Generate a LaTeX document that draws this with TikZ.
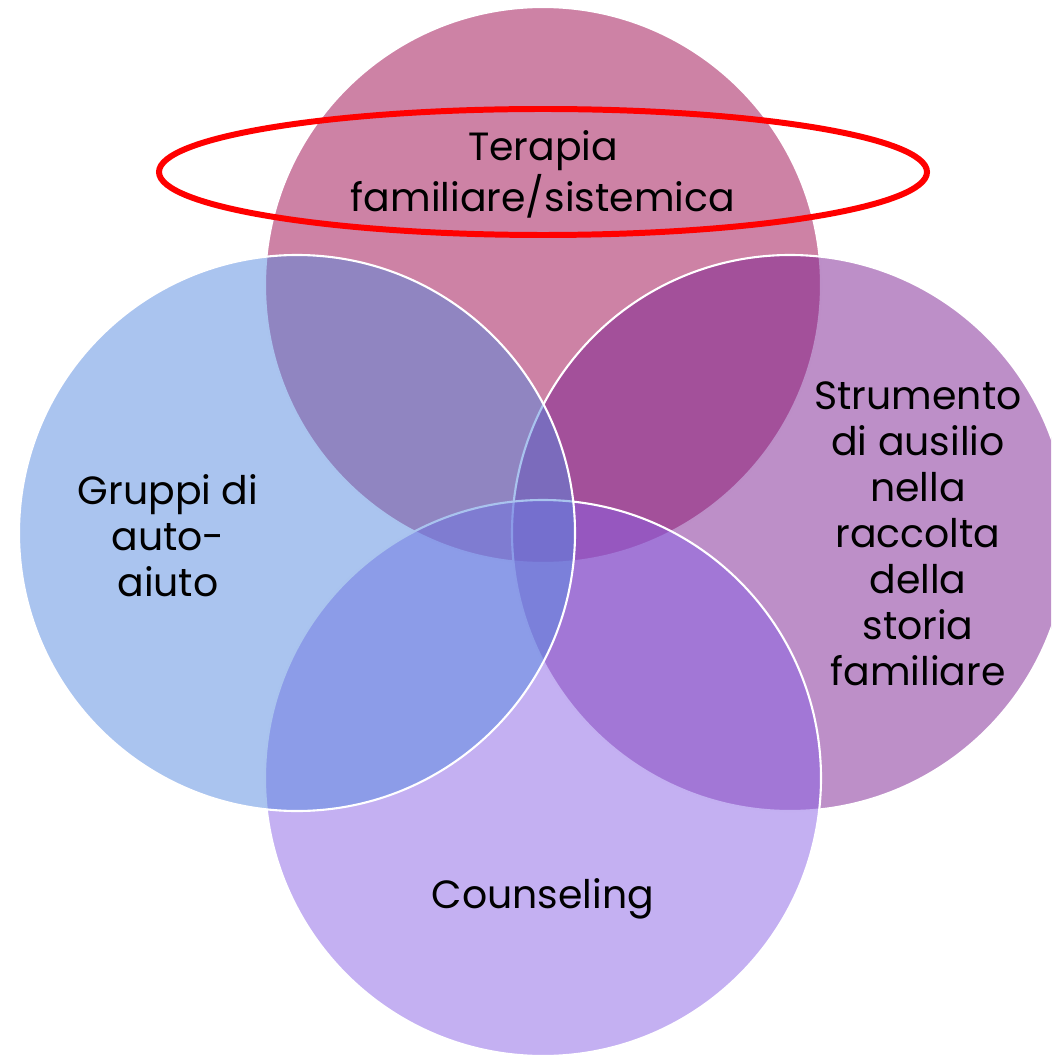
\documentclass[tikz,border=0pt]{standalone}
\usepackage{fontspec}
\setmainfont{Poppins}
\definecolor{vtop}{HTML}{9B054B}
\definecolor{vright}{HTML}{7B1F91}
\definecolor{vbottom}{HTML}{8961E5}
\definecolor{vleft}{HTML}{5589DF}
\tikzset{
	venn/.style={fill opacity=0.5, draw=white, line width=0.6pt},
	label/.style={align=center, text=black, font=\fontsize{11.2}{13.1}\selectfont}
}
\begin{document}
\begin{tikzpicture}[x=0.01cm, y=-0.01cm]
	\useasboundingbox (0,0) rectangle (1051,1055);
	\begin{scope}
		\clip (0,0) rectangle (1051,1055);
		\draw[venn, fill=vtop]    (543,285) circle (278);
		\draw[venn, fill=vright]  (790,533) circle (278);
		\draw[venn, fill=vbottom] (543,778) circle (278);
		\draw[venn, fill=vleft]   (297,533) circle (278);
	\end{scope}

	\draw (543,174) node[label] (tera) {Terapia\\familiare/sistemica};
	\draw (168,536) node[label] (grup) {Gruppi di\\auto-\\aiuto};
	\draw (918,534) node[label] (stru) {Strumento\\di ausilio\\nella\\raccolta\\della\\storia\\familiare};
	\draw (543,899) node[label] (coun) {Counseling};

	\draw[red, line width=1.7pt] (543,172) ellipse (384 and 63);
\end{tikzpicture}
\end{document}
